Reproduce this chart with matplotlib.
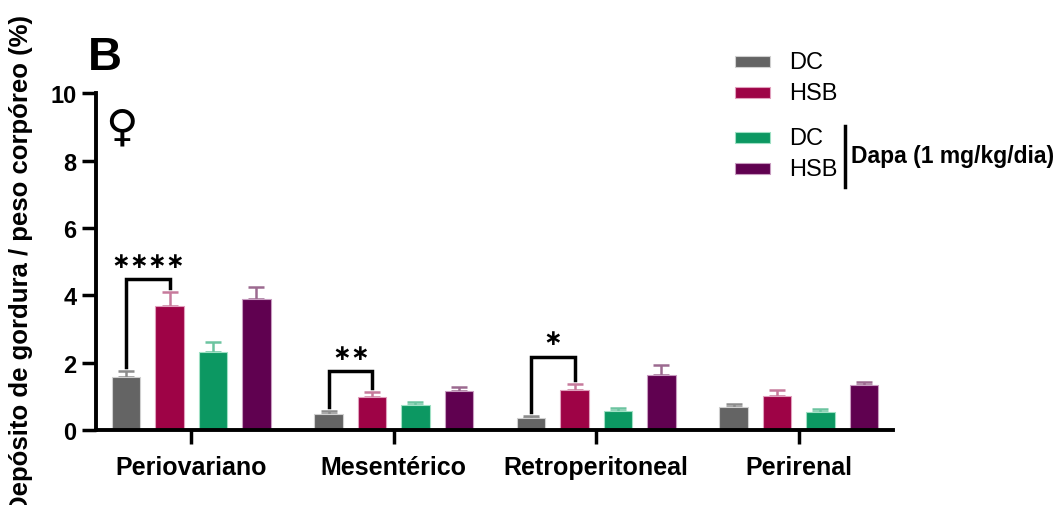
import numpy as np
import matplotlib.pyplot as plt
from matplotlib.patches import Rectangle
from matplotlib.lines import Line2D

plt.rcParams['font.family'] = ['Liberation Sans', 'DejaVu Sans']

# fat depot weight / body weight (%), mean and upper error (SEM)
depots = ['Periovariano', 'Mesentérico', 'Retroperitoneal', 'Perirenal']
groups = ['DC', 'HSB', 'DC', 'HSB']
means = {
    'DC': [1.57, 0.47, 0.36, 0.68],
    'HSB': [3.68, 0.98, 1.19, 1.01],
    'Dapa DC': [2.31, 0.74, 0.56, 0.53],
    'Dapa HSB': [3.89, 1.16, 1.63, 1.34],
}
errs = {
    'DC': [0.18, 0.09, 0.06, 0.09],
    'HSB': [0.42, 0.15, 0.17, 0.18],
    'Dapa DC': [0.30, 0.09, 0.09, 0.09],
    'Dapa HSB': [0.35, 0.12, 0.30, 0.08],
}
colors = ['#646464', '#9e0346', '#0c9862', '#600150']
err_colors = ['#8c8c8c', '#c77a9c', '#6cc4a0', '#9c6a90']
edge_colors = ['#d0d0d0', '#e0a0bd', '#9fe0c4', '#c89cc0']

# significance: (depot index, bar a, bar b, bracket height, stars)
sig = [(0, 0, 1, 4.48, 4), (1, 0, 1, 1.75, 2), (2, 0, 1, 2.17, 1)]

offsets = [-0.322, -0.107, 0.107, 0.322]
width = 0.14
x = np.arange(len(depots))
keys = list(means)

fig = plt.figure(figsize=(10.59, 5.06), dpi=100)
ax = fig.add_axes([0.0907, 0.148, 0.7525, 0.666])

for i, key in enumerate(keys):
    xs = x + offsets[i]
    ax.bar(xs, means[key], width, color=colors[i], edgecolor=edge_colors[i],
           linewidth=0.8, zorder=2)
    ax.errorbar(xs, means[key], yerr=[np.zeros(len(depots)), errs[key]],
                fmt='none', ecolor=err_colors[i], elinewidth=1.8,
                capsize=6, capthick=1.8, zorder=1)

for d, a, b, h, n in sig:
    xa = x[d] + offsets[a]
    xb = x[d] + offsets[b]
    ya = means[keys[a]][d] + errs[keys[a]][d] + 0.12
    yb = means[keys[b]][d] + errs[keys[b]][d] + 0.12
    ax.plot([xa, xa, xb, xb], [ya, h, h, yb], color='black', lw=2.5,
            solid_joinstyle='miter', zorder=3)
    xc = (xa + xb) / 2
    step = 0.09
    for k in range(n):
        ax.text(xc + (k - (n - 1) / 2) * step, h + 0.55, '∗', ha='center',
                va='center', fontsize=16, fontweight='bold',
                family=['DejaVu Sans'])

ax.set_xlim(-0.47, 3.465)
ax.set_ylim(0, 10)
ax.set_yticks([0, 2, 4, 6, 8, 10])
ax.set_xticks(x)
ax.set_xticklabels(depots, fontsize=18, fontweight='bold')
for lbl in ax.get_yticklabels():
    lbl.set_fontsize(17)
    lbl.set_fontweight('bold')
ax.tick_params(axis='y', length=10, width=2.5, pad=4)
ax.tick_params(axis='x', length=10, width=2.5, pad=8)
ax.spines['top'].set_visible(False)
ax.spines['right'].set_visible(False)
ax.spines['left'].set_linewidth(2.8)
ax.spines['bottom'].set_linewidth(2.8)
ax.set_ylabel('Depósito de gordura / peso corpóreo (%)', fontsize=18.5,
              fontweight='bold')
ax.yaxis.set_label_coords(-0.079, 0.495)

fig.text(0.083, 0.862, 'B', fontsize=34, fontweight='bold')
ax.text(0.012, 0.90, '♀', transform=ax.transAxes, fontsize=32,
        family=['DejaVu Sans'], va='center')

# legend
leg_y = [0.876, 0.815, 0.726, 0.665]
for i, yy in enumerate(leg_y):
    fig.patches.append(Rectangle((0.694, yy - 0.011), 0.033, 0.022,
                                 transform=fig.transFigure, facecolor=colors[i],
                                 edgecolor=edge_colors[i], lw=0.8))
    fig.text(0.745, yy, groups[i], fontsize=17, va='center')
fig.lines.append(Line2D([0.798, 0.798], [0.628, 0.750], color='black', lw=2.5,
                        transform=fig.transFigure))
fig.text(0.804, 0.690, 'Dapa (1 mg/kg/dia)', fontsize=16.5, fontweight='bold',
         va='center')

fig.savefig('out.png', dpi=100)
